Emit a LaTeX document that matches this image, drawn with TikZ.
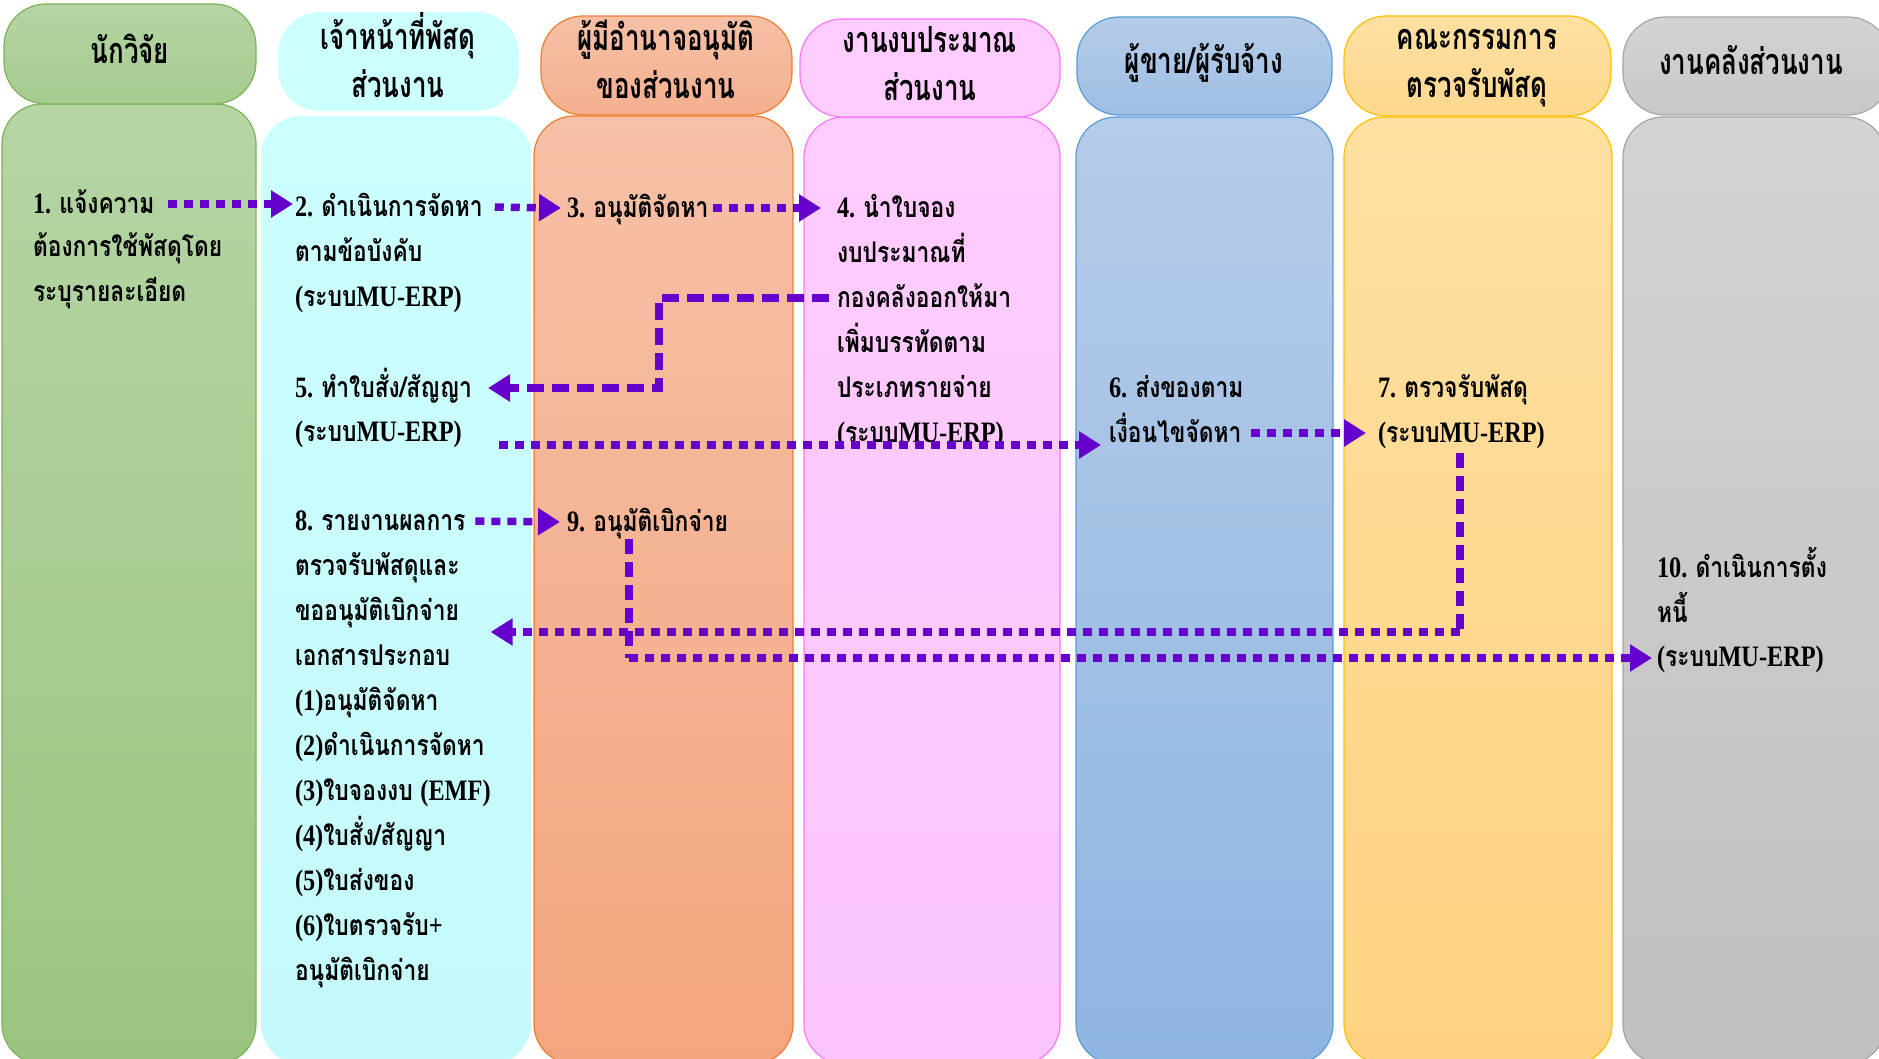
\documentclass[tikz,border=0pt]{standalone}
\usepackage{fontspec}
\setmainfont[Script=Thai, FakeStretch=0.8]{Loma}
\newfontfamily\lafont[FakeStretch=0.82, Scale=1.04]{Liberation Serif}
\newfontfamily\headfont[Script=Thai, FakeStretch=0.72]{Loma}
\usetikzlibrary{arrows.meta}

\newcommand\la[1]{{\lafont #1}}
\newcommand\lstr{\rule[-13pt]{0pt}{45pt}}
\newcommand\hstr{\rule[-15pt]{0pt}{48pt}}
\newcommand\erp{\la{(}ระบบ\la{MU-ERP)}}

% lane colours: top, bottom, outline
\definecolor{gT}{RGB}{181,213,165}\definecolor{gB}{RGB}{155,196,128}\definecolor{gL}{RGB}{122,178,85}
\definecolor{cT}{RGB}{204,255,255}\definecolor{cB}{RGB}{197,250,250}
\definecolor{oT}{RGB}{246,192,166}\definecolor{oB}{RGB}{244,165,127}\definecolor{oL}{RGB}{237,125,49}
\definecolor{pT}{RGB}{255,204,255}\definecolor{pB}{RGB}{252,198,252}\definecolor{pL}{RGB}{250,120,250}
\definecolor{bT}{RGB}{181,204,232}\definecolor{bB}{RGB}{143,181,226}\definecolor{bL}{RGB}{91,155,213}
\definecolor{yT}{RGB}{254,224,162}\definecolor{yB}{RGB}{254,210,128}\definecolor{yL}{RGB}{255,192,0}
\definecolor{kT}{RGB}{211,211,211}\definecolor{kB}{RGB}{192,192,192}\definecolor{kL}{RGB}{165,165,165}
\definecolor{flowc}{RGB}{102,0,204}

\tikzset{
  lanebody/.style={rounded corners=40pt, line width=1.2pt},
  lanehead/.style={rounded corners=42pt, line width=1.2pt},
  headtext/.style={inner sep=0pt, align=center, font=\headfont\bfseries\fontsize{36}{48}\selectfont},
  steptext/.style={inner sep=0pt, outer sep=0pt, align=left, font=\bfseries\fontsize{28.5}{45}\selectfont},
  tipend/.style={-{Triangle[length=22pt,width=26pt]}},
  hdots/.style={draw=flowc, line width=7.5pt, line cap=butt, dash pattern=on 9pt off 7pt},
  vdots/.style={draw=flowc, line width=7.5pt, line cap=butt, dash pattern=on 15pt off 8pt},
  ldash/.style={draw=flowc, line width=7.5pt, line cap=butt, dash pattern=on 17pt off 8pt},
}

\begin{document}
\begin{tikzpicture}[x=1pt, y=-1pt]
\useasboundingbox (0,0) rectangle (1879,1059);

% lane bodies
\path[lanebody, draw=gL, top color=gT, bottom color=gB] (2,104) rectangle (256,1064);
\path[lanebody, top color=cT, bottom color=cB] (261,116) rectangle (531,1064);
\path[lanebody, draw=oL, top color=oT, bottom color=oB] (534,116) rectangle (793,1064);
\path[lanebody, draw=pL, top color=pT, bottom color=pB] (804,117) rectangle (1060,1064);
\path[lanebody, draw=bL, top color=bT, bottom color=bB] (1076,117) rectangle (1333,1064);
\path[lanebody, draw=yL, top color=yT, bottom color=yB] (1344,117) rectangle (1612,1064);
\path[lanebody, draw=kL, top color=kT, bottom color=kB] (1623,117) rectangle (1886,1064);

% lane headers
\path[lanehead, draw=gL, top color=gT, bottom color=gT!40!gB] (4,4) rectangle (256,104);
\path[lanehead, top color=cT, bottom color=cT] (278,12) rectangle (519,111);
\path[lanehead, draw=oL, top color=oT, bottom color=oT!40!oB] (541,16) rectangle (792,115);
\path[lanehead, draw=pL, top color=pT, bottom color=pT] (800,19) rectangle (1060,117);
\path[lanehead, draw=bL, top color=bT, bottom color=bT!40!bB] (1077,17) rectangle (1332,115);
\path[lanehead, draw=yL, top color=yT, bottom color=yT!40!yB] (1344,16) rectangle (1611,116);
\path[lanehead, draw=kL, top color=kT, bottom color=kT!40!kB] (1623,17) rectangle (1890,115);

\node[headtext] (h1) at (130,55) {\hstr นักวิจัย};
\node[headtext] (h2) at (398,62) {\hstr เจ้าหน้าที่พัสดุ\\\hstr ส่วนงาน};
\node[headtext] (h3) at (666,66) {\hstr ผู้มีอำนาจอนุมัติ\\\hstr ของส่วนงาน};
\node[headtext] (h4) at (930,68) {\hstr งานงบประมาณ\\\hstr ส่วนงาน};
\node[headtext] (h5) at (1204,65) {\hstr ผู้ขาย/ผู้รับจ้าง};
\node[headtext] (h6) at (1477,65) {\hstr คณะกรรมการ\\\hstr ตรวจรับพัสดุ};
\node[headtext] (h7) at (1751,66) {\hstr งานคลังส่วนงาน};

% step texts
\node[steptext, anchor=west] (s1a) at (33,204) {\lstr\la{1. }แจ้งความ};
\node[steptext, anchor=north west] (s1b) at (33,224.5) {\lstr ต้องการใช้พัสดุโดย\\\lstr ระบุรายละเอียด};

\node[steptext, anchor=west] (s2a) at (295,207) {\lstr\la{2. }ดำเนินการจัดหา};
\node[steptext, anchor=north west] (s2b) at (295,229.5) {\lstr ตามข้อบังคับ\\\lstr\erp};
\node[steptext, anchor=west] (s5a) at (295,388) {\lstr\la{5. }ทำใบสั่ง/สัญญา};
\node[steptext, anchor=west] (s5b) at (295,432) {\lstr\erp};
\node[steptext, anchor=west] (s8a) at (295,521) {\lstr\la{8. }รายงานผลการ};
\node[steptext, anchor=north west] (s8b) at (295,543.5) {\lstr ตรวจรับพัสดุและ\\\lstr ขออนุมัติเบิกจ่าย\\\lstr เอกสารประกอบ\\
  \lstr\la{(1)}อนุมัติจัดหา\\\lstr\la{(2)}ดำเนินการจัดหา\\\lstr\la{(3)}ใบจองงบ \la{(EMF)}\\
  \lstr\la{(4)}ใบสั่ง/สัญญา\\\lstr\la{(5)}ใบส่งของ\\\lstr\la{(6)}ใบตรวจรับ\la{+}\\\lstr อนุมัติเบิกจ่าย};

\node[steptext, anchor=west] (s3) at (567,208) {\lstr\la{3. }อนุมัติจัดหา};
\node[steptext, anchor=west] (s9) at (567,522) {\lstr\la{9. }อนุมัติเบิกจ่าย};

\node[steptext, anchor=north west] (s4a) at (837,185.5) {\lstr\la{4. }นำใบจอง\\\lstr งบประมาณที่};
\node[steptext, anchor=west] (s4c) at (837,298) {\lstr กองคลังออกให้มา};
\node[steptext, anchor=north west] (s4d) at (837,320.5) {\lstr เพิ่มบรรทัดตาม\\\lstr ประเภทรายจ่าย\\\lstr\erp};

\node[steptext, anchor=west] (s6a) at (1109,388) {\lstr\la{6. }ส่งของตาม};
\node[steptext, anchor=west] (s6b) at (1109,433) {\lstr เงื่อนไขจัดหา};

\node[steptext, anchor=west] (s7a) at (1378,388) {\lstr\la{7. }ตรวจรับพัสดุ};
\node[steptext, anchor=west] (s7b) at (1378,433) {\lstr\erp};

\node[steptext, anchor=north west] (s10a) at (1657,545.5) {\lstr\la{10. }ดำเนินการตั้ง\\\lstr หนี้};
\node[steptext, anchor=west] (s10c) at (1657,657) {\lstr\erp};

% flow connectors
\draw[hdots, tipend, shorten <=14pt, shorten >=2pt] (s1a.east) -- (s1a.east -| s2a.west);
\draw[hdots, tipend, shorten <=12pt, shorten >=6pt] (s2a.east) -- (s3.west);
\draw[hdots, tipend, shorten <=5pt, shorten >=16pt] (s3.east) -- (s4a.west |- s3.east);
\draw[ldash, tipend, shorten <=8pt, shorten >=16pt] (s4c.west) -- ++(-178,0) |- (s5a.east);
\coordinate (c5) at (499,445);
\draw[hdots, tipend, shorten >=8pt] (c5) -- (c5 -| s6b.west);
\draw[hdots, tipend, shorten <=10pt, shorten >=12pt] (s6b.east) -- (s7b.west);
\draw[hdots, tipend, shorten <=10pt, shorten >=7pt] (s8a.east) -- (s9.west);

% step 7 back to step 8
\coordinate (k7a) at (1460,453);
\coordinate (k7b) at (1460,632);
\draw[vdots] (k7a) -- (k7b);
\draw[hdots, tipend] (k7b) -- (k7b -| s8b.east);

% step 9 on to step 10
\coordinate (k9a) at (629,539);
\coordinate (k9b) at (629,658);
\draw[vdots] (k9a) -- (k9b);
\draw[hdots, tipend, shorten >=5pt] (k9b) -- (k9b -| s10c.west);
\end{tikzpicture}
\end{document}
